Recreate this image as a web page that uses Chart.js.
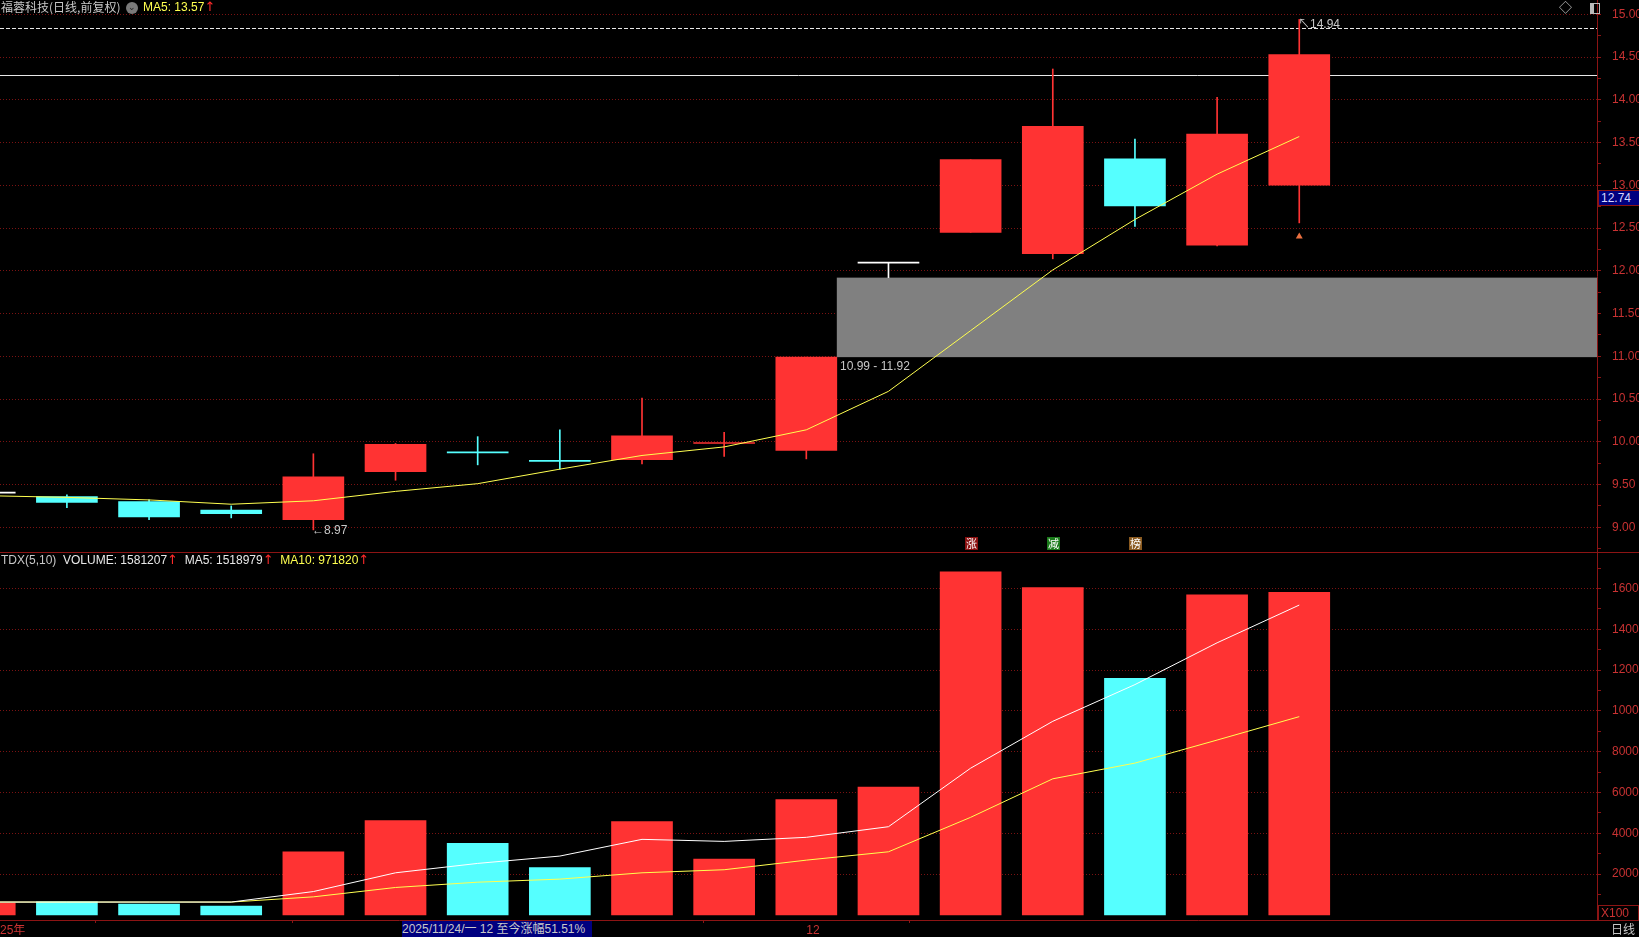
<!DOCTYPE html>
<html>
<head>
<meta charset="utf-8">
<script src="https://cdn.jsdelivr.net/npm/chart.js@4.4.1/dist/chart.umd.min.js"></script>
<style>
html, body { margin: 0; padding: 0; background: #000; overflow: hidden; }
#wrap { position: relative; width: 1639px; height: 937px; background: #000; font-family: "Liberation Sans", "Noto Sans CJK SC", sans-serif; }
canvas { position: absolute; left: 0; }
#priceChart { top: 0; }
#volChart { top: 552px; }
.t { position: absolute; white-space: nowrap; font-size: 12px; line-height: 14px; }
.up { color: #ff2a2a; font-family: "DejaVu Sans", sans-serif; font-size: 13px; }
.badge { position: absolute; width: 13px; height: 13px; font-size: 11px; line-height: 13px; text-align: center; color: #fff; font-family: "Noto Sans CJK SC", sans-serif; }
</style>
</head>
<body>
<div id="wrap">
	<canvas id="priceChart" width="1639" height="552"></canvas>
	<canvas id="volChart" width="1639" height="385"></canvas>

	<div class="t" style="left:1px;top:0;color:#c8c8c8;font-family:'Noto Sans CJK SC',sans-serif;">福蓉科技(日线,前复权)</div>
	<div style="position:absolute;left:126px;top:2px;width:12px;height:12px;border-radius:6px;background:#7a7a7a;color:#222;font-size:9px;line-height:11px;text-align:center;">&#8964;</div>
	<div class="t" style="left:143px;top:0;color:#ffff50;">MA5: 13.57<span class="up">↑</span></div>
	<div class="t" style="left:1559px;top:1px;color:#bbbbbb;font-size:13px;">◇</div>
	<div style="position:absolute;left:1590px;top:3px;width:8px;height:9px;border:1px solid #bbbbbb;"><div style="width:3px;height:9px;background:#bbbbbb;"></div></div>

	<div style="position:absolute;left:0;top:552px;width:1639px;height:1px;background:#8c1414;"></div>
	<div class="t" style="left:1px;top:553px;color:#c8c8c8;">TDX(5,10)&nbsp; <span style="color:#e8e8e8">VOLUME: 1581207</span><span class="up">↑</span>&nbsp; <span style="color:#e8e8e8">MA5: 1518979</span><span class="up">↑</span>&nbsp; <span style="color:#ffff50">MA10: 971820</span><span class="up">↑</span></div>

	<div class="t" style="left:1598px;top:190px;width:39px;height:14px;background:#000080;border:1px solid #8c1414;color:#d8d8ff;padding-left:2px;box-sizing:content-box;">12.74</div>
	<div class="t" style="left:1598px;top:905px;width:37px;height:14px;border:1px solid #8c1414;color:#c83232;padding-left:2px;">X100</div>
	<div class="t" style="left:1611px;top:922px;color:#c8c8c8;font-family:'Noto Sans CJK SC',sans-serif;">日线</div>
	<div class="t" style="left:402px;top:921px;width:190px;height:16px;line-height:16px;background:#000080;color:#c8c8c8;">2025/11/24/一 12 至今涨幅51.51%</div>

	<div id="gapLabel" class="t" style="color:#c8c8c8;">10.99 - 11.92</div>
	<div id="lowLabel" class="t" style="color:#c8c8c8;">←8.97</div>
	<div id="highLabel" class="t" style="color:#c8c8c8;">↖14.94</div>
	<div id="b0" class="badge" style="background:#8a1010;">涨</div>
	<div id="b1" class="badge" style="background:#1a7a1a;">减</div>
	<div id="b2" class="badge" style="background:#8a5a20;">榜</div>
</div>
<script>
// daily bars, index 0 is the partly hidden one at the left edge
const xIdx   = [0, 1, 2, 3, 4, 5, 6, 7, 8, 9, 10, 11, 12, 13, 14, 15, 16];
const openP  = [9.40, 9.36, 9.30, 9.20, 9.09, 9.65, 9.88, 9.78, 9.79, 9.98, 9.90, 12.09, 12.45, 12.20, 13.31, 12.30, 13.00];
const closeP = [9.40, 9.29, 9.12, 9.16, 9.59, 9.97, 9.87, 9.77, 10.07, 9.99, 10.99, 12.09, 13.30, 13.69, 12.76, 13.60, 14.53];
const highP  = [9.40, 9.38, 9.32, 9.25, 9.86, 9.98, 10.06, 10.14, 10.51, 10.11, 10.99, 12.09, 13.30, 14.36, 13.54, 14.03, 14.94];
const lowP   = [9.40, 9.23, 9.09, 9.11, 8.97, 9.55, 9.73, 9.68, 9.74, 9.83, 9.80, 11.92, 12.45, 12.14, 12.52, 12.29, 12.56];
const ma5P   = [9.37, 9.35, 9.32, 9.27, 9.31, 9.42, 9.51, 9.68, 9.84, 9.94, 10.14, 10.59, 11.30, 12.01, 12.60, 13.13, 13.57];

// volume in x100
const volume  = [580, 630, 530, 430, 3090, 4620, 3500, 2320, 4570, 2730, 5650, 6260, 16820, 16050, 11600, 15690, 15812];
const volMa5  = [625, 625, 625, 625, 1140, 2060, 2520, 2880, 3700, 3600, 3800, 4320, 7190, 9490, 11290, 13340, 15190];
const volMa10 = [625, 625, 625, 625, 880, 1340, 1600, 1750, 2060, 2210, 2680, 3090, 4780, 6670, 7440, 8570, 9718];

const priceTicks = [9.00, 9.50, 10.00, 10.50, 11.00, 11.50, 12.00, 12.50, 13.00, 13.50, 14.00, 14.50, 15.00];
const volTicks = [2000, 4000, 6000, 8000, 10000, 12000, 14000, 16000];
const xTicks = [0.1857, 2.5, 5, 7.5, 10];
const xTickLabels = ['25年', '', '', '', '12'];

const gapLow = 10.99, gapHigh = 11.92;
const whiteLineP = 14.29;
const dashLineP = 14.84;
const markP = 12.40, markIdx = 16;

const xMin = 0.1857, xMax = 19.624;
const priceMin = 8.711, priceMax = 15.167;
const volMin = -255, volMax = 17793;

const RED = '#ff3333', CYAN = '#55ffff', WHITE = '#ffffff', YELLOW = '#ffff50';
const AXIS = '#8c1414', GRID = '#7a1212', LABEL = '#c83232';
const BODY_W = 61;

Chart.defaults.font.family = '"Liberation Sans", "Noto Sans CJK SC", sans-serif';
Chart.defaults.font.size = 12;

const candleColor = xIdx.map((x, i) => closeP[i] > openP[i] ? RED : (closeP[i] < openP[i] ? CYAN : WHITE));
const volColor = xIdx.map((x, i) => closeP[i] >= openP[i] ? RED : CYAN);

function yAxis(min, max, majors, step, fmt) {
	return {
		position: 'right',
		min: min,
		max: max,
		afterBuildTicks: s => {
			const t = [];
			t.push({value: majors[0] - step});
			majors.forEach(v => {
				t.push({value: v});
				if (v + step < max) t.push({value: v + step});
			});
			s.ticks = t.filter(o => o.value > min);
		},
		afterFit: s => { s.width = 42; s.paddingTop = 0; s.paddingBottom = 0; },
		ticks: {
			color: LABEL,
			padding: 11,
			autoSkip: false,
			callback: v => majors.includes(v) ? fmt(v) : ''
		},
		grid: {
			color: c => (c.tick && majors.includes(c.tick.value)) ? GRID : 'rgba(0,0,0,0)',
			tickColor: AXIS,
			tickLength: 4
		},
		border: { color: AXIS, dash: [1, 2] }
	};
}

const overlay = {
	id: 'overlay',
	beforeDatasetsDraw(chart) {
		const {ctx, chartArea, scales: {x, y}} = chart;
		ctx.save();
		// gap zone
		const gx = x.getPixelForValue(10) + BODY_W / 2;
		ctx.fillStyle = '#808080';
		ctx.fillRect(gx, y.getPixelForValue(gapHigh), chartArea.right - gx, y.getPixelForValue(gapLow) - y.getPixelForValue(gapHigh));
		// horizontal lines
		ctx.strokeStyle = '#e8e8e8';
		ctx.lineWidth = 1;
		let py = Math.round(y.getPixelForValue(whiteLineP)) + 0.5;
		ctx.beginPath(); ctx.moveTo(chartArea.left, py); ctx.lineTo(chartArea.right, py); ctx.stroke();
		py = Math.round(y.getPixelForValue(dashLineP)) + 0.5;
		ctx.setLineDash([4, 2]);
		ctx.beginPath(); ctx.moveTo(chartArea.left, py); ctx.lineTo(chartArea.right, py); ctx.stroke();
		ctx.restore();
	}
};

const priceChart = new Chart(document.getElementById('priceChart'), {
	type: 'bar',
	data: {
		datasets: [{
			type: 'line',
			data: xIdx.map((x, i) => ({x: x, y: ma5P[i]})),
			borderColor: YELLOW,
			borderWidth: 1,
			pointRadius: 0,
			order: 0
		}, {
			type: 'scatter',
			data: [{x: markIdx, y: markP}],
			pointStyle: 'triangle',
			pointRadius: 4,
			backgroundColor: '#ea7040',
			borderWidth: 0,
			order: 0
		}, {
			data: xIdx.map((x, i) => ({x: x, y: [openP[i], closeP[i]]})),
			backgroundColor: candleColor,
			barThickness: BODY_W,
			minBarLength: 1,
			grouped: false,
			order: 1
		}, {
			data: xIdx.map((x, i) => ({x: x, y: [lowP[i], highP[i]]})),
			backgroundColor: candleColor,
			barThickness: 1,
			grouped: false,
			order: 2
		}]
	},
	options: {
		responsive: false,
		animation: false,
		events: [],
		layout: { padding: 0, autoPadding: false },
		plugins: { legend: { display: false }, tooltip: { enabled: false } },
		scales: {
			x: { type: 'linear', display: false, min: xMin, max: xMax, offset: false },
			y: yAxis(priceMin, priceMax, priceTicks, 0.25, v => v.toFixed(2))
		}
	},
	plugins: [overlay]
});

const volChart = new Chart(document.getElementById('volChart'), {
	type: 'bar',
	data: {
		datasets: [{
			type: 'line',
			data: xIdx.map((x, i) => ({x: x, y: volMa5[i]})),
			borderColor: WHITE,
			borderWidth: 1,
			pointRadius: 0,
			order: 0
		}, {
			type: 'line',
			data: xIdx.map((x, i) => ({x: x, y: volMa10[i]})),
			borderColor: YELLOW,
			borderWidth: 1,
			pointRadius: 0,
			order: 0
		}, {
			data: xIdx.map((x, i) => ({x: x, y: volume[i]})),
			backgroundColor: volColor,
			barThickness: BODY_W,
			grouped: false,
			order: 1
		}]
	},
	options: {
		responsive: false,
		animation: false,
		events: [],
		layout: { padding: 0, autoPadding: false },
		plugins: { legend: { display: false }, tooltip: { enabled: false } },
		scales: {
			x: {
				type: 'linear', min: xMin, max: xMax, offset: false,
				afterBuildTicks: s => { s.ticks = xTicks.map(v => ({value: v})); },
				afterFit: s => { s.height = 17; s.paddingLeft = 0; s.paddingRight = 0; },
				ticks: {
					color: LABEL, padding: 0, align: 'start', autoSkip: false, maxRotation: 0,
					callback: (v, i) => xTickLabels[i]
				},
				grid: { drawOnChartArea: false, tickColor: AXIS, tickLength: 3 },
				border: { color: AXIS }
			},
			y: yAxis(volMin, volMax, volTicks, 1000, v => String(v))
		}
	}
});

// place the text marks next to the bars they belong to
(function placeLabels() {
	const x = priceChart.scales.x, y = priceChart.scales.y;
	const put = (id, left, top) => {
		const el = document.getElementById(id);
		el.style.left = Math.round(left) + 'px';
		el.style.top = Math.round(top) + 'px';
	};
	put('gapLabel', x.getPixelForValue(10) + BODY_W / 2 + 3, y.getPixelForValue(gapLow) + 2);
	put('lowLabel', x.getPixelForValue(4) - 1, y.getPixelForValue(lowP[4]) - 7);
	put('highLabel', x.getPixelForValue(16) - 1, y.getPixelForValue(highP[16]) - 2);
	['b0', 'b1', 'b2'].forEach((id, k) => put(id, x.getPixelForValue(12 + k) - 6, 537));
})();
</script>
</body>
</html>
